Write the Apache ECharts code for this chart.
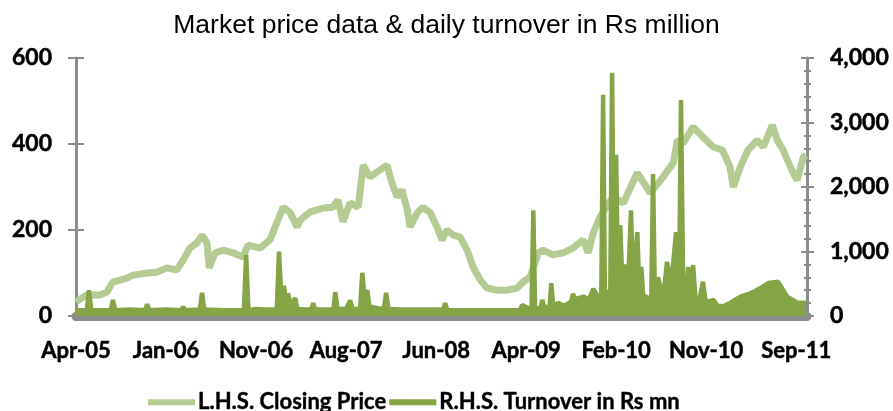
<!DOCTYPE html>
<html lang="en">
<head>
<meta charset="UTF-8">
<title>Market price data &amp; daily turnover</title>
<style>
  html, body { margin: 0; padding: 0; background: #fff; }
  #main { width: 893px; height: 411px; }
</style>
</head>
<body>
<div id="main"></div>
<script src="https://cdn.jsdelivr.net/npm/echarts@6/dist/echarts.min.js"></script>
<script>
  // x axis is the trading day index, Excel put a label every 200 days
  var tickLabels = ['Apr-05', 'Jan-06', 'Nov-06', 'Aug-07', 'Jun-08', 'Apr-09', 'Feb-10', 'Nov-10', 'Sep-11'];

  // L.H.S. closing price
  var priceDays = [0, 24, 53, 69, 82, 113, 127, 158, 180, 202, 224, 238, 253, 269, 280, 291, 296, 309, 327, 349,
    371, 382, 409, 431, 447, 460, 476, 491, 498, 520, 549, 571, 582, 593, 609, 627, 638, 653, 669, 691,
    702, 713, 724, 736, 742, 758, 771, 787, 802, 813, 824, 838, 853, 869, 882, 898, 913, 936, 958, 980,
    993, 1009, 1027, 1038, 1060, 1082, 1104, 1127, 1138, 1149, 1164, 1193, 1216, 1247, 1276, 1304, 1327, 1336, 1349, 1371,
    1393, 1416, 1436, 1453, 1460, 1476, 1493, 1513, 1527, 1547, 1558, 1571, 1593, 1602, 1616, 1622];
  var priceValues = [33, 49, 49, 56, 79, 88, 95, 100, 102, 112, 107, 130, 158, 170, 188, 170, 112, 147, 153, 147,
    137, 165, 158, 177, 219, 253, 240, 207, 223, 242, 251, 253, 270, 219, 263, 253, 351, 323, 335, 351,
    309, 277, 293, 247, 207, 240, 253, 240, 207, 177, 200, 188, 184, 153, 114, 84, 65, 60, 60, 65,
    79, 91, 147, 153, 142, 147, 158, 177, 147, 193, 230, 277, 263, 333, 286, 323, 356, 409, 402, 440,
    416, 393, 386, 347, 300, 347, 386, 409, 393, 444, 409, 386, 333, 316, 370, 374];

  // R.H.S. turnover in Rs mn
  var turnoverDays = [0, 24, 29, 34, 77, 82, 87, 120, 153, 158, 163, 200, 233, 238, 243, 275, 280, 285, 330, 373,
    378, 383, 400, 420, 446, 451, 456, 462, 467, 471, 478, 487, 492, 510, 523, 527, 531, 555, 572, 576,
    581, 600, 609, 615, 631, 636, 641, 647, 652, 670, 684, 689, 694, 720, 760, 800, 816, 820, 825, 860,
    900, 940, 980, 987, 991, 1012, 1016, 1020, 1032, 1036, 1040, 1052, 1056, 1060, 1071, 1085, 1100, 1104, 1110, 1127,
    1140, 1149, 1160, 1167, 1171, 1175, 1187, 1191, 1195, 1200, 1204, 1209, 1214, 1220, 1226, 1233, 1238, 1247, 1251, 1256,
    1260, 1264, 1272, 1278, 1282, 1286, 1293, 1300, 1306, 1313, 1320, 1327, 1333, 1340, 1344, 1349, 1356, 1360, 1365, 1371,
    1376, 1385, 1393, 1398, 1405, 1416, 1425, 1438, 1455, 1476, 1498, 1520, 1538, 1560, 1580, 1602, 1622];
  var turnoverValues = [90, 90, 400, 90, 90, 250, 90, 100, 90, 180, 90, 100, 90, 140, 90, 100, 360, 100, 90, 90,
    950, 90, 110, 100, 100, 1000, 300, 470, 200, 350, 150, 280, 110, 100, 100, 200, 100, 100, 100, 370,
    110, 110, 240, 110, 110, 670, 300, 400, 150, 120, 110, 360, 110, 100, 100, 100, 100, 200, 90, 90,
    90, 90, 90, 100, 170, 100, 1640, 120, 120, 250, 140, 140, 510, 160, 200, 160, 220, 340, 260, 300,
    260, 420, 300, 320, 3430, 320, 400, 3770, 600, 2500, 500, 1410, 500, 800, 400, 1640, 400, 1300, 500, 760,
    320, 330, 280, 280, 2200, 320, 600, 400, 380, 840, 500, 840, 1300, 500, 3350, 400, 320, 760, 320, 790,
    300, 260, 530, 260, 220, 250, 160, 150, 210, 300, 350, 430, 510, 530, 300, 210, 200];

  function pairs(days, vals) {
    var out = [];
    for (var i = 0; i < days.length; i++) {
      out.push([days[i], vals[i]]);
    }
    return out;
  }

  var grey = '#8c8c8c';
  var labelFont = {
    color: '#000', fontFamily: 'Lato', fontWeight: 'bold', fontSize: 23,
    textBorderColor: '#000', textBorderWidth: 0.5
  };

  var myChart = echarts.init(document.getElementById('main'));

  var option = {
    animation: false,
    title: {
      text: 'Market price data & daily turnover in Rs million',
      left: 'center',
      top: 7,
      textStyle: { fontFamily: 'Liberation Sans', fontWeight: 'normal', fontSize: 26.5, color: '#000' }
    },
    legend: {
      top: 386,
      left: 143,
      icon: 'rect',
      itemWidth: 47,
      itemHeight: 6,
      itemGap: 3,
      textStyle: {
        color: '#000', fontFamily: 'Lato', fontWeight: 'bold', fontSize: 22,
        textBorderColor: '#000', textBorderWidth: 0.4, padding: [0, 0, 0, -2]
      },
      data: ['L.H.S. Closing Price', 'R.H.S. Turnover in Rs mn']
    },
    grid: { left: 76, right: 86, top: 58, bottom: 95, containLabel: false },
    xAxis: {
      type: 'value',
      min: 0,
      max: 1624,
      interval: 200,
      offset: 5,
      splitLine: { show: false },
      axisTick: { show: false },
      axisLine: { lineStyle: { color: grey, width: 9 } },
      axisLabel: Object.assign({}, labelFont, {
        margin: 19,
        fontSize: 22,
        showMaxLabel: false,
        formatter: function (v) {
          var label = tickLabels[v / 200];
          return label ? label : '';
        }
      })
    },
    yAxis: [
      {
        type: 'value', position: 'left', min: 0, max: 600, interval: 200,
        splitLine: { show: false },
        axisLine: { show: true, lineStyle: { color: grey, width: 3 } },
        axisTick: { show: true, length: 8, lineStyle: { color: grey, width: 2 } },
        axisLabel: Object.assign({ margin: 24 }, labelFont)
      },
      {
        type: 'value', position: 'right', min: 0, max: 4000, interval: 1000,
        splitLine: { show: false },
        axisLine: { show: true, lineStyle: { color: grey, width: 3 } },
        axisTick: { show: true, length: 7, lineStyle: { color: grey, width: 2 } },
        minorTick: { show: true, splitNumber: 5, length: 4, lineStyle: { color: grey, width: 2 } },
        axisLabel: Object.assign({
          margin: 23,
          formatter: function (v) { return v === 0 ? '0' : echarts.format.addCommas(v); }
        }, labelFont)
      },
      // inner halves of the crossing ticks
      {
        type: 'value', position: 'left', min: 0, max: 600, interval: 200,
        splitLine: { show: false }, axisLine: { show: false }, axisLabel: { show: false },
        axisTick: { show: true, inside: true, length: 8, lineStyle: { color: grey, width: 2 } }
      },
      {
        type: 'value', position: 'right', min: 0, max: 4000, interval: 1000,
        splitLine: { show: false }, axisLine: { show: false }, axisLabel: { show: false },
        axisTick: { show: true, inside: true, length: 6, lineStyle: { color: grey, width: 2 } },
        minorTick: { show: true, splitNumber: 5, length: 3, lineStyle: { color: grey, width: 2 } }
      }
    ],
    series: [
      {
        name: 'L.H.S. Closing Price',
        type: 'line',
        yAxisIndex: 0,
        showSymbol: false,
        color: '#b4cc94',
        lineStyle: { width: 7, color: '#b4cc94' },
        data: pairs(priceDays, priceValues),
        z: 2
      },
      {
        name: 'R.H.S. Turnover in Rs mn',
        type: 'line',
        yAxisIndex: 1,
        showSymbol: false,
        color: '#84a446',
        lineStyle: { width: 4.5, color: '#84a446' },
        areaStyle: { color: '#84a446', opacity: 1 },
        data: pairs(turnoverDays, turnoverValues),
        z: 3
      }
    ]
  };

  myChart.setOption(option);
</script>
</body>
</html>
